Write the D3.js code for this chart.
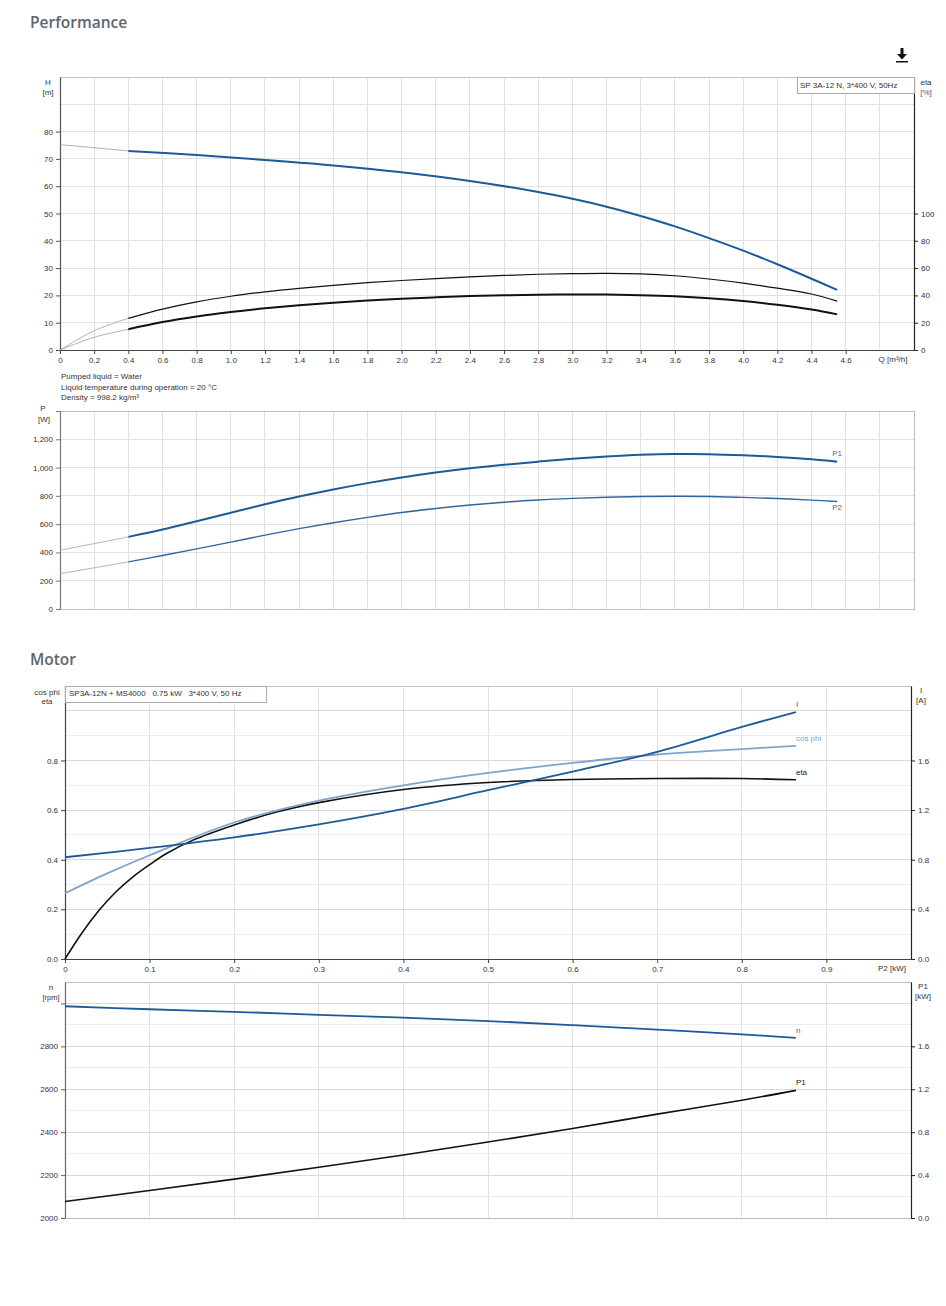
<!DOCTYPE html>
<html><head><meta charset="utf-8">
<script src="https://cdn.jsdelivr.net/npm/d3@7"></script>
<style>
body{margin:0;background:#fff;}
svg{display:block;font-family:"Liberation Sans",Arial,sans-serif;}
.tick text{font-size:8px;fill:#333;}
</style></head><body>
<svg id="c" width="946" height="1306"></svg>
<script>
// ---------- Performance: head & efficiency ----------
const qTicks = [0,0.2,0.4,0.6,0.8,1.0,1.2,1.4,1.6,1.8,2.0,2.2,2.4,2.6,2.8,3.0,3.2,3.4,3.6,3.8,4.0,4.2,4.4,4.6];
const hTicks = [0,10,20,30,40,50,60,70,80];
const etaTicks = [0,20,40,60,80,100];
const headExtQ = [0, 0.2, 0.4];
const headExtH = [75.2, 74.1, 72.9];
const headQ = [0.4,0.8,1.2,1.6,2.0,2.4,2.8,3.0,3.2,3.4,3.6,3.8,4.0,4.2,4.4,4.55];
const headH = [72.9,71.4,69.6,67.6,65.1,61.9,57.9,55.4,52.5,49.1,45.3,41.0,36.4,31.4,26.1,22.0];
const etaQ = [0.4,0.6,0.8,1.0,1.2,1.4,1.6,1.8,2.0,2.2,2.4,2.6,2.8,3.0,3.2,3.4,3.6,3.8,4.0,4.2,4.4,4.55];
const etaPump = [23.2,30.0,35.3,39.4,42.6,45.2,47.4,49.3,50.9,52.3,53.5,54.6,55.5,56.0,56.2,55.8,54.4,52.0,49.0,45.3,41.0,35.8];
const etaTotal = [15.2,20.5,24.6,27.8,30.5,32.8,34.7,36.2,37.5,38.6,39.5,40.1,40.5,40.7,40.6,40.2,39.4,38.0,35.9,33.1,29.6,26.1];
const etaExtQ = [0, 0.2, 0.4];
const etaPumpExt = [0, 14.1, 23.2];
const etaTotalExt = [0, 9.3, 15.2];
// ---------- Performance: power ----------
const pTicks = [0,200,400,600,800,1000,1200,1400];
const powExtQ = [0, 0.2, 0.4];
const p1Ext = [416, 462, 510];
const p2Ext = [250, 291, 333];
const powQ = [0.4,0.6,0.8,1.0,1.2,1.4,1.6,1.8,2.0,2.2,2.4,2.6,2.8,3.0,3.2,3.4,3.6,3.8,4.0,4.2,4.4,4.55];
const p1W = [510,562,621,681,740,795,845,890,930,965,995,1020,1042,1062,1078,1090,1096,1095,1087,1075,1058,1042];
const p2W = [333,378,425,473,522,568,610,648,682,711,735,755,771,782,790,795,797,795,789,781,770,760];
// ---------- Motor ----------
const p2Ticks = [0,0.1,0.2,0.3,0.4,0.5,0.6,0.7,0.8,0.9];
const cosTicks = [0,0.2,0.4,0.6,0.8];
const iTicks = [0,0.4,0.8,1.2,1.6];
const motX = [0,0.1,0.2,0.3,0.4,0.5,0.6,0.7,0.8,0.864];
const currentA = [0.82,0.895,0.98,1.085,1.21,1.36,1.51,1.67,1.87,1.99];
const cosX = [0,0.05,0.1,0.2,0.3,0.4,0.5,0.6,0.7,0.8,0.864];
const cosPhi = [0.265,0.345,0.418,0.55,0.638,0.70,0.75,0.79,0.824,0.846,0.859];
const motEtaX = [0,0.02,0.04,0.06,0.08,0.1,0.12,0.15,0.2,0.25,0.3,0.4,0.5,0.6,0.7,0.8,0.864];
const motEta = [0,0.105,0.195,0.27,0.33,0.38,0.425,0.477,0.54,0.592,0.63,0.683,0.711,0.723,0.727,0.727,0.722];
const nTicks = [2000,2200,2400,2600,2800,3000];
const kwTicks = [0,0.4,0.8,1.2,1.6];
const speedRpm = [2987,2973,2961,2947,2934,2918,2899,2878,2856,2840];
const p1kW = [0.154,0.256,0.362,0.473,0.588,0.708,0.835,0.968,1.098,1.19];

const svg = d3.select("#c");
const BLUE = "#1d5a96", LBLUE = "#7fa4c9", BLACK = "#111";
const GRID = "#e1e1e1";

function title(t, y){
  svg.append("text").attr("x",30).attr("y",y).text(t)
    .attr("font-family","'Open Sans',sans-serif").attr("font-weight",600)
    .attr("font-size",15.5).attr("fill","#5c6670");
}
function txt(x,y,t,opts={}){
  return svg.append("text").attr("x",x).attr("y",y).text(t)
    .attr("font-size",opts.size||8).attr("fill",opts.fill||"#333")
    .attr("text-anchor",opts.anchor||"start").style("white-space","pre");
}
function grid(x, y, xs, ys, colorFn){
  const g = svg.append("g");
  xs.forEach(v=>g.append("line").attr("x1",x(v)).attr("x2",x(v)).attr("y1",y.range()[0]).attr("y2",y.range()[1])
    .attr("stroke",GRID).attr("stroke-width",1).attr("shape-rendering","crispEdges"));
  ys.forEach(v=>g.append("line").attr("x1",x.range()[0]).attr("x2",x.range()[1]).attr("y1",y(v)).attr("y2",y(v))
    .attr("stroke",colorFn?colorFn(v):GRID).attr("stroke-width",1).attr("shape-rendering","crispEdges"));
}
function frame(x,y,color){
  svg.append("rect").attr("x",x.range()[0]).attr("y",y.range()[1])
    .attr("width",x.range()[1]-x.range()[0]).attr("height",y.range()[0]-y.range()[1])
    .attr("fill","none").attr("stroke",color||"#c4c4c4").attr("shape-rendering","crispEdges");
}
function styleAxis(g, color){
  g.select(".domain").attr("stroke",color).attr("stroke-width",1.2);
  g.selectAll(".tick line").attr("stroke",color);
  g.selectAll(".tick text").attr("font-family","'Liberation Sans',Arial,sans-serif").attr("font-size",8).attr("fill","#333");
}
function curve(xs, ys, x, y, color, w){
  const data = xs.map((v,i)=>[v, ys[i]]);
  svg.append("path").datum(data).attr("fill","none").attr("stroke",color).attr("stroke-width",w)
    .attr("stroke-linecap","butt")
    .attr("d", d3.line().x(d=>x(d[0])).y(d=>y(d[1])).curve(d3.curveCatmullRom.alpha(0.5)));
}
const f1 = d=> d===0 ? "0" : d.toFixed(1);

// ===== Title & icon =====
title("Performance", 28);
svg.append("path").attr("d","M900.5,48 h3 v6 h3.5 l-5,5.5 l-5,-5.5 h3.5 z M896,61 h12 v1.6 h-12 z").attr("fill","#111");

// ===== Chart 1 =====
{
  const x = d3.scaleLinear().domain([0,5]).range([60,914]);
  const y = d3.scaleLinear().domain([0,100]).range([350,77]);
  const yE = d3.scaleLinear().domain([0,200]).range([350,77]);
  grid(x, y, d3.range(1,26).map(i=>i*0.2), d3.range(1,10).map(i=>i*10));
  frame(x,y);
  const gl = svg.append("g").attr("transform","translate(60,0)")
    .call(d3.axisLeft(y).tickValues(hTicks).tickSize(4).tickPadding(3).tickSizeOuter(0));
  styleAxis(gl,"#555");
  const gr = svg.append("g").attr("transform","translate(914,0)")
    .call(d3.axisRight(yE).tickValues(etaTicks).tickSize(4).tickPadding(3).tickSizeOuter(0));
  styleAxis(gr,"#222");
  const gb = svg.append("g").attr("transform","translate(0,350)")
    .call(d3.axisBottom(x).tickValues(qTicks).tickFormat(f1).tickSize(4).tickPadding(3).tickSizeOuter(0));
  styleAxis(gb,"#444");
  txt(893,362,"Q [m³/h]",{anchor:"middle"});
  txt(48,85,"H",{anchor:"middle"}); txt(48,95,"[m]",{anchor:"middle"});
  txt(926,85,"eta",{anchor:"middle"}); txt(926,95,"[%]",{anchor:"middle",fill:"#35608f"});
  svg.append("rect").attr("x",797).attr("y",77).attr("width",117).attr("height",16)
    .attr("fill","#fff").attr("stroke","#aaa").attr("shape-rendering","crispEdges");
  txt(800,87.5,"SP 3A-12 N, 3*400 V, 50Hz");
  curve(headExtQ, headExtH, x, y, "#9a9a9a", 0.8);
  curve(etaExtQ, etaPumpExt, x, yE, "#9a9a9a", 0.8);
  curve(etaExtQ, etaTotalExt, x, yE, "#9a9a9a", 0.8);
  curve(etaQ, etaPump, x, yE, BLACK, 1.2);
  curve(etaQ, etaTotal, x, yE, BLACK, 2);
  curve(headQ, headH, x, y, BLUE, 2);
  txt(61,379,"Pumped liquid = Water");
  txt(61,389.5,"Liquid temperature during operation = 20 °C");
  txt(61,400,"Density = 998.2 kg/m³");
}

// ===== Chart 2 =====
{
  const x = d3.scaleLinear().domain([0,5]).range([60,914]);
  const y = d3.scaleLinear().domain([0,1400]).range([609,411]);
  grid(x, y, d3.range(1,26).map(i=>i*0.2), [200,400,600,800,1000,1200]);
  frame(x,y,"#bdbdbd");
  const gl = svg.append("g").attr("transform","translate(60,0)")
    .call(d3.axisLeft(y).tickValues(pTicks).tickFormat((d)=> d===1400?"":d3.format(",")(d)).tickSize(4).tickPadding(3).tickSizeOuter(0));
  styleAxis(gl,"#777");
  txt(43,411,"P",{anchor:"middle"}); txt(44,422,"[W]",{anchor:"middle"});
  curve(powExtQ, p1Ext, x, y, "#8aa6c4", 0.8);
  curve(powExtQ, p2Ext, x, y, "#8aa6c4", 0.8);
  curve(powQ, p1W, x, y, BLUE, 2);
  curve(powQ, p2W, x, y, "#2f66a0", 1.4);
  const ex = powQ[powQ.length-1];
  txt(x(ex), y(p1W[p1W.length-1])-5.5, "P1", {anchor:"middle", fill:"#3b6ea6"});
  txt(x(ex), y(p2W[p2W.length-1])+8, "P2", {anchor:"middle", fill:"#3b6ea6"});
}

// ===== Motor =====
title("Motor", 665);
{
  const x = d3.scaleLinear().domain([0,1.0]).range([65,911]);
  const y = d3.scaleLinear().domain([0,1.1]).range([959,686]);
  const yI = d3.scaleLinear().domain([0,2.2]).range([959,686]);
  grid(x, y, d3.range(1,10).map(i=>i*0.1), d3.range(1,11).map(i=>i*0.1), v=> (Math.round(v*10)%2===0)?"#d9d9d9":"#ececec");
  frame(x,y);
  const gl = svg.append("g").attr("transform","translate(65,0)")
    .call(d3.axisLeft(y).tickValues(cosTicks).tickFormat(d=>d.toFixed(1)).tickSize(4).tickPadding(3).tickSizeOuter(0));
  styleAxis(gl,"#444");
  const gr = svg.append("g").attr("transform","translate(911,0)")
    .call(d3.axisRight(yI).tickValues(iTicks).tickFormat(d=>d.toFixed(1)).tickSize(4).tickPadding(3).tickSizeOuter(0));
  styleAxis(gr,"#222");
  const gb = svg.append("g").attr("transform","translate(0,959)")
    .call(d3.axisBottom(x).tickValues(p2Ticks).tickFormat(d=> d===0?"0":String(+d.toFixed(1))).tickSize(4).tickPadding(3).tickSizeOuter(0));
  styleAxis(gb,"#444");
  txt(892,971,"P2 [kW]",{anchor:"middle"});
  txt(47,694.5,"cos phi",{anchor:"middle"}); txt(47,704,"eta",{anchor:"middle"});
  txt(921,693,"I",{anchor:"middle"}); txt(921,703,"[A]",{anchor:"middle"});
  svg.append("rect").attr("x",65).attr("y",686).attr("width",201).attr("height",16)
    .attr("fill","#fff").attr("stroke","#aaa").attr("shape-rendering","crispEdges");
  txt(69,696,"SP3A-12N + MS4000   0.75 kW   3*400 V, 50 Hz");
  curve(motEtaX, motEta, x, y, BLACK, 1.6);
  curve(cosX, cosPhi, x, y, LBLUE, 1.8);
  curve(motX, currentA, x, yI, BLUE, 1.8);
  const ex = x(motX[motX.length-1]);
  txt(ex, yI(currentA[currentA.length-1])-5, "I", {fill:"#2f62a0"});
  txt(ex, y(cosPhi[cosPhi.length-1])-5, "cos phi", {fill:LBLUE});
  txt(ex, y(motEta[motEta.length-1])-5, "eta", {fill:"#222"});
}
{
  const x = d3.scaleLinear().domain([0,1.0]).range([65,911]);
  const y = d3.scaleLinear().domain([2000,3100]).range([1218,982]);
  const yP = d3.scaleLinear().domain([0,2.2]).range([1218,982]);
  grid(x, y, d3.range(1,10).map(i=>i*0.1), d3.range(1,11).map(i=>2000+i*100), v=> (v%200===0)?"#d9d9d9":"#ececec");
  frame(x,y,"#bdbdbd");
  const gl = svg.append("g").attr("transform","translate(65,0)")
    .call(d3.axisLeft(y).tickValues(nTicks).tickFormat(d=> d===3000?"":String(d)).tickSize(4).tickPadding(3).tickSizeOuter(0));
  styleAxis(gl,"#666");
  const gr = svg.append("g").attr("transform","translate(911,0)")
    .call(d3.axisRight(yP).tickValues(kwTicks).tickFormat(d=>d.toFixed(1)).tickSize(4).tickPadding(3).tickSizeOuter(0));
  styleAxis(gr,"#222");
  txt(51,990,"n",{anchor:"middle"}); txt(51,1000,"[rpm]",{anchor:"middle",size:7.5});
  txt(923,989,"P1",{anchor:"middle"}); txt(923,999,"[kW]",{anchor:"middle"});
  curve(motX, speedRpm, x, y, BLUE, 1.8);
  curve(motX, p1kW, x, yP, BLACK, 1.6);
  const ex = x(motX[motX.length-1]);
  txt(ex, y(speedRpm[speedRpm.length-1])-5, "n", {fill:"#3b6ea6"});
  txt(ex, yP(p1kW[p1kW.length-1])-5, "P1", {fill:"#222"});
}
</script></body></html>
